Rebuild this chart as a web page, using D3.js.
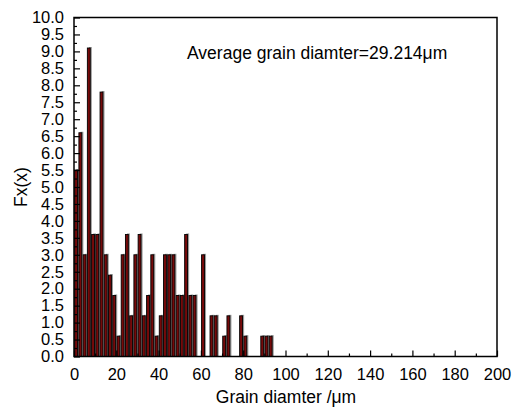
<!DOCTYPE html>
<html>
<head>
<meta charset="utf-8">
<script src="https://cdn.jsdelivr.net/npm/d3@7"></script>
<style>
  body { margin: 0; background: #fff; }
  text { font-family: "Liberation Sans", Arial, sans-serif; }
</style>
</head>
<body>
<svg id="chart" width="520" height="410"></svg>
<script>
// bin centres (µm) and heights
const binCentres = [1,3,5,7,9,11,13,15,17,19,21,23,25,27,29,31,33,35,37,39,41,43,45,47,49,51,53,55,57,61,65,67,71,73,79,81,89,91,93];
const fxValues   = [5.5,6.6,3.0,9.1,3.6,3.6,7.8,3.0,2.4,1.8,0.6,3.0,3.6,1.2,3.0,3.6,1.2,1.8,3.0,0.6,1.2,3.0,3.0,3.0,1.8,1.8,3.6,1.8,1.8,3.0,1.2,1.2,0.6,1.2,1.2,0.6,0.6,0.6,0.6];
const xTicks = d3.range(0, 201, 20);
const yTicks = d3.range(0, 10.01, 0.5);
const avgLabel = "Average grain diamter=29.214\u03bcm";

const svg = d3.select("#chart");
const mLeft = 74, mRight = 497, mTop = 17.5, mBottom = 356.5;

const x = d3.scaleLinear().domain([0, 200]).range([mLeft, mRight]);
const y = d3.scaleLinear().domain([0, 10]).range([mBottom, mTop]);

const binW = 2;
const barW = (x(binW) - x(0)) * 0.68;

const data = binCentres.map((c, i) => ({c: c, v: fxValues[i]}));

// gray shadow behind each bar
svg.append("g").selectAll("rect")
  .data(data).enter().append("rect")
  .attr("x", d => x(d.c) - barW / 2 + 1.6)
  .attr("y", d => y(d.v) - 1)
  .attr("width", barW)
  .attr("height", d => mBottom - y(d.v) + 1)
  .attr("fill", "#9a9a9a");

svg.append("g").selectAll("rect")
  .data(data).enter().append("rect")
  .attr("x", d => x(d.c) - barW / 2)
  .attr("y", d => y(d.v))
  .attr("width", barW)
  .attr("height", d => mBottom - y(d.v))
  .attr("fill", "#760a0a")
  .attr("stroke", "#000")
  .attr("stroke-width", 0.9);

// axes, ticks pointing inward
svg.append("g")
  .attr("transform", `translate(0,${mBottom})`)
  .call(d3.axisBottom(x).tickValues(xTicks).tickSize(-6).tickPadding(12).tickFormat(d3.format("d")));
svg.append("g")
  .attr("transform", `translate(0,${mBottom})`)
  .call(d3.axisBottom(x).tickValues(d3.range(10, 200, 20)).tickSize(-3).tickFormat(""));

svg.append("g")
  .attr("transform", `translate(${mLeft},0)`)
  .call(d3.axisLeft(y).tickValues(yTicks).tickSize(-6).tickPadding(10).tickFormat(d3.format(".1f")));
svg.append("g")
  .attr("transform", `translate(${mLeft},0)`)
  .call(d3.axisLeft(y).tickValues(d3.range(0.25, 10, 0.5)).tickSize(-3).tickFormat(""));

svg.selectAll(".tick line").attr("stroke", "#000").attr("stroke-width", 1.2);
svg.selectAll(".tick text").attr("font-size", 16.5).attr("fill", "#000")
  .style("font-family", "'Liberation Sans', Arial, sans-serif");
svg.selectAll(".domain").remove();

// frame
svg.append("rect")
  .attr("x", mLeft).attr("y", mTop)
  .attr("width", mRight - mLeft).attr("height", mBottom - mTop)
  .attr("fill", "none").attr("stroke", "#000").attr("stroke-width", 1.5);

svg.append("text")
  .attr("x", 187).attr("y", 59)
  .attr("font-size", 17.5)
  .text(avgLabel);

svg.append("text")
  .attr("x", 286).attr("y", 403)
  .attr("text-anchor", "middle")
  .attr("font-size", 17.5)
  .text("Grain diamter /\u03bcm");

svg.append("text")
  .attr("transform", `translate(27,${(mTop + mBottom) / 2}) rotate(-90)`)
  .attr("text-anchor", "middle")
  .attr("font-size", 17.5)
  .text("Fx(x)");
</script>
</body>
</html>
